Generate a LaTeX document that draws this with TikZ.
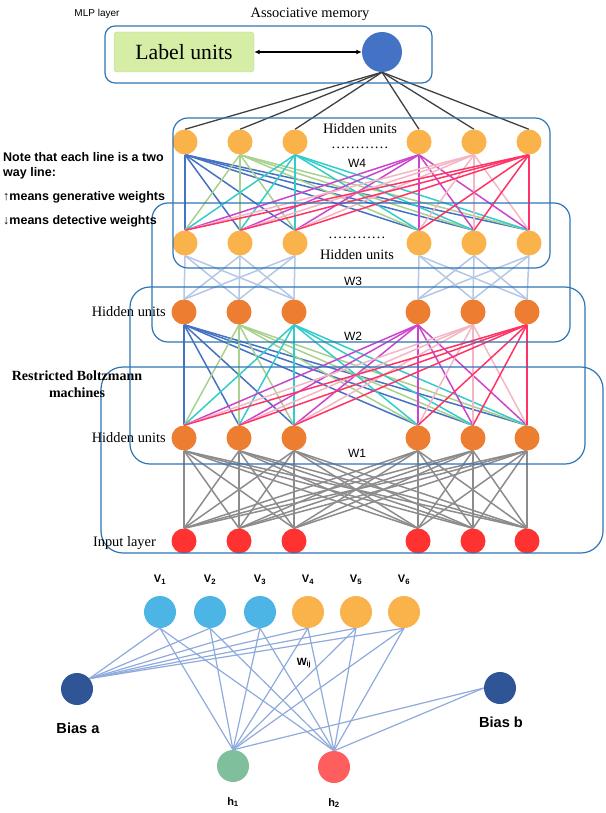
\documentclass[tikz,border=0pt]{standalone}
\usepackage{fontspec}
\setmainfont{Liberation Serif}
\setsansfont{Liberation Sans}
\usetikzlibrary{arrows.meta}
\definecolor{boxblue}{RGB}{46,117,182}
\definecolor{lorange}{RGB}{250,178,75}
\definecolor{dorange}{RGB}{237,125,49}
\definecolor{inred}{RGB}{255,50,50}
\definecolor{mlpblue}{RGB}{68,114,196}
\definecolor{labfill}{RGB}{213,237,164}
\definecolor{labdraw}{RGB}{181,217,154}
\definecolor{vblue}{RGB}{77,181,230}
\definecolor{navy}{RGB}{47,85,151}
\definecolor{hgreen}{RGB}{127,191,155}
\definecolor{hred}{RGB}{255,94,94}
\definecolor{botline}{RGB}{143,170,220}
\definecolor{wgray}{RGB}{140,140,140}
\definecolor{wthree}{RGB}{180,199,231}
\definecolor{topgray}{RGB}{64,64,64}
\definecolor{cola}{RGB}{68,114,196}
\definecolor{colb}{RGB}{169,209,142}
\definecolor{colc}{RGB}{51,204,204}
\definecolor{cold}{RGB}{204,68,204}
\definecolor{cole}{RGB}{244,182,194}
\definecolor{colf}{RGB}{255,51,102}
\pgfdeclarelayer{bg}
\pgfsetlayers{bg,main}
\begin{document}
\begin{tikzpicture}[x=1pt,y=-1pt,
  unit/.style={circle,inner sep=0pt,minimum size=25pt},
  bigunit/.style={circle,inner sep=0pt,minimum size=32pt},
  rbmbox/.style={draw=boxblue,line width=1.2pt,rounded corners=#1},
  serif14/.style={font=\fontsize{14.4}{17}\selectfont},
  dotsty/.style={font=\fontsize{14.4}{17}\selectfont,inner sep=0pt},
  wlab/.style={font=\sffamily\fontsize{12}{14}\selectfont},
  notetxt/.style={font=\sffamily\bfseries\fontsize{12.5}{15}\selectfont,anchor=west,inner sep=0pt},
  vlab/.style={font=\sffamily\bfseries\fontsize{11}{13}\selectfont},
  wline/.style={line width=1.5pt},
  bline/.style={botline,line width=1.2pt}]
\useasboundingbox (0,0) rectangle (605,813);

% ---------- MLP layer ----------
\node[font=\sffamily\fontsize{10}{12}\selectfont] (mlplab) at (97,14) {MLP layer};
\node[serif14] (assoc) at (310,14) {Associative memory};
\draw[rbmbox=10pt] (105,26) rectangle (432,83);
\node[draw=labdraw,fill=labfill,rounded corners=3pt,minimum width=140pt,minimum height=40pt,
      font=\fontsize{21.7}{24}\selectfont] (label) at (184,52) {Label units};
\node[circle,fill=mlpblue,inner sep=0pt,minimum size=40pt] (mlp) at (382,52) {};
\draw[{Latex[length=5.5pt,width=5pt]}-{Latex[length=5.5pt,width=5pt]},line width=1.3pt] (label.east) -- (mlp.west);

% ---------- layers ----------
\foreach \x [count=\i] in {185,240,295,419,474,529} {
  \node[unit,fill=lorange] (a\i) at (\x,142) {};
  \node[unit,fill=lorange] (b\i) at (\x,243) {};
}
\foreach \x [count=\i] in {184,239,294,418,473,527} {
  \node[unit,fill=dorange] (c\i) at (\x,312) {};
  \node[unit,fill=dorange] (d\i) at (\x,438) {};
  \node[unit,fill=inred] (e\i) at (\x,541) {};
}

\begin{pgfonlayer}{bg}
  % associative memory to top hidden layer
  \foreach \i in {1,...,6} \draw[topgray,line width=1.3pt] (mlp.south) -- (a\i.north);
  % W4 and W2
  \foreach \i/\c in {1/cola,2/colb,3/colc,4/cold,5/cole,6/colf} {
    \foreach \j in {1,...,6} {
      \draw[wline,\c] (a\i.south) -- (b\j.north);
      \draw[wline,\c] (c\i.south) -- (d\j.north);
    }
  }
  % W3 (within groups)
  \foreach \i in {1,2,3} \foreach \j in {1,2,3} \draw[wline,wthree] (b\i.south) -- (c\j.north);
  \foreach \i in {4,5,6} \foreach \j in {4,5,6} \draw[wline,wthree] (b\i.south) -- (c\j.north);
  % W1
  \foreach \i in {1,...,6} \foreach \j in {1,...,6} \draw[wline,wgray] (d\i.south) -- (e\j.north);
\end{pgfonlayer}

% boxes
\draw[rbmbox=15pt] (173,118) rectangle (550,268);
\draw[rbmbox=16pt] (152,203) rectangle (570,342);
\draw[rbmbox=20pt] (130,287) rectangle (585,464);
\draw[rbmbox=22pt] (101,367) rectangle (603,553);

% labels in the stack
\node[serif14] (hu1) at (360,129) {Hidden units};
\node[dotsty] (dots1) at (360,148) {…………};
\node[wlab] (w4) at (357,163) {W4};
\node[dotsty] (dots2) at (357,238) {…………};
\node[serif14] (hu2) at (357,255) {Hidden units};
\node[wlab] (w3) at (353,281) {W3};
\node[wlab] (w2) at (353,336) {W2};
\node[wlab] (w1) at (357,453) {W1};
\node[serif14,anchor=east,inner sep=0pt] (hu3) at (166,312) {Hidden units};
\node[serif14,anchor=east,inner sep=0pt] (hu4) at (166,438) {Hidden units};
\node[serif14,anchor=east,inner sep=0pt] (inp) at (156,543) {Input layer};
\node[font=\bfseries\fontsize{14}{17}\selectfont,align=center] (rbm) at (77,384) {Restricted Boltzmann\\machines};

% note
\node[notetxt] (note1) at (3,157) {Note that each line is a two};
\node[notetxt] (note2) at (3,173) {way line:};
\node[notetxt] (note3) at (3,197) {↑means generative weights};
\node[notetxt] (note4) at (3,221) {↓means detective weights};

% ---------- bottom RBM ----------
\foreach \x/\c [count=\i] in {160/vblue,210/vblue,260/vblue,308/lorange,356/lorange,404/lorange} {
  \node[bigunit,fill=\c] (v\i) at (\x,612) {};
  \node[vlab] (vl\i) at (\x,580) {V\textsubscript{\bfseries\i}};
}
\node[bigunit,fill=navy] (biasa) at (77,689) {};
\node[bigunit,fill=navy] (biasb) at (500,688) {};
\node[bigunit,fill=hgreen] (h1) at (233,766) {};
\node[bigunit,fill=hred] (h2) at (334,767) {};
\node[font=\sffamily\bfseries\fontsize{14.6}{17}\selectfont] (bal) at (78,728) {Bias a};
\node[font=\sffamily\bfseries\fontsize{14.6}{17}\selectfont] (bbl) at (501,722) {Bias b};
\node[vlab] (h1l) at (233,802) {h\textsubscript{\bfseries 1}};
\node[vlab] (h2l) at (334,803) {h\textsubscript{\bfseries 2}};
\node[font=\sffamily\bfseries\fontsize{10.5}{12}\selectfont] (wij) at (304,663) {W\textsubscript{\bfseries ij}};

\begin{pgfonlayer}{bg}
  \foreach \i in {1,...,6} {
    \draw[bline] (biasa.40) -- (v\i.south);
    \draw[bline] (v\i.south) -- (h1.north);
    \draw[bline] (v\i.south) -- (h2.north);
  }
  \draw[bline] (biasb.west) -- (h1.north);
  \draw[bline] (biasb.west) -- (h2.north);
\end{pgfonlayer}
\end{tikzpicture}
\end{document}
